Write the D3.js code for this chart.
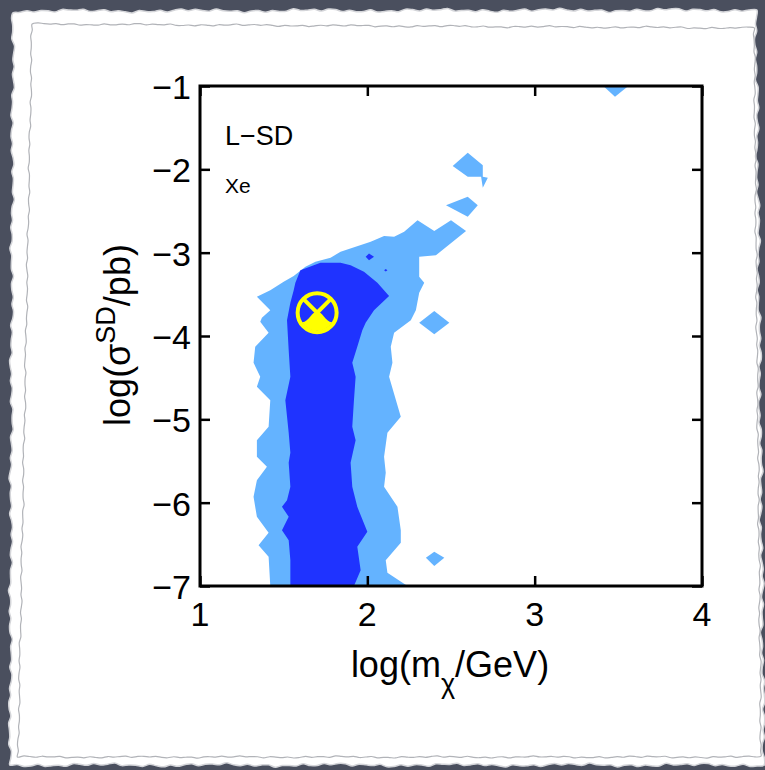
<!DOCTYPE html>
<html>
<head>
<meta charset="utf-8">
<script src="https://cdn.jsdelivr.net/npm/d3@7"></script>
<style>
  html, body { margin: 0; padding: 0; background: #4a4f5e; }
  svg { display: block; font-family: 'Liberation Sans', Arial, Helvetica, sans-serif; }
</style>
</head>
<body>
<div id="chart"></div>
<script>
// tick values
var xTicks = [1, 2, 3, 4];
var yTicks = [-1, -2, -3, -4, -5, -6, -7];

// outer (light) credible region, [log(m/GeV), log(sigma/pb)]
var lightRegion = [
  [1.42, -7], [1.41, -6.65], [1.35, -6.51], [1.41, -6.36], [1.34, -6.17], [1.32, -5.93],
  [1.34, -5.73], [1.40, -5.57], [1.34, -5.45], [1.34, -5.25], [1.41, -5.09], [1.42, -4.77],
  [1.34, -4.61], [1.36, -4.49], [1.32, -4.32], [1.33, -4.13], [1.41, -3.96], [1.36, -3.83],
  [1.37, -3.78], [1.42, -3.69], [1.34, -3.53],
  [1.42, -3.45], [1.50, -3.35], [1.56, -3.28], [1.63, -3.17], [1.69, -3.11], [1.78, -3.06],
  [1.84, -2.99], [1.93, -2.93], [2.02, -2.87], [2.10, -2.80], [2.16, -2.81], [2.22, -2.75],
  [2.30, -2.61], [2.40, -2.74], [2.50, -2.61], [2.59, -2.74], [2.41, -3.03], [2.31, -3.05],
  [2.31, -3.29], [2.34, -3.36], [2.31, -3.48], [2.29, -3.69], [2.26, -3.81],
  [2.16, -3.96], [2.14, -4.13], [2.15, -4.32], [2.13, -4.49], [2.20, -4.97], [2.12, -5.16],
  [2.10, -5.45], [2.11, -5.64], [2.10, -5.81], [2.14, -5.93], [2.18, -6.05], [2.20, -6.33],
  [2.20, -6.48], [2.11, -6.69], [2.12, -6.84], [2.24, -7]
];
var lightIslands = [
  [[2.51, -1.96], [2.60, -1.80], [2.69, -1.95], [2.69, -2.09], [2.72, -2.10], [2.69, -2.22], [2.68, -2.09], [2.60, -2.09]],
  [[2.47, -2.43], [2.60, -2.33], [2.66, -2.43], [2.60, -2.57]],
  [[2.31, -3.84], [2.40, -3.70], [2.49, -3.84], [2.40, -3.98]],
  [[3.41, -1.0], [3.56, -1.0], [3.48, -1.13]],
  [[2.35, -6.66], [2.40, -6.59], [2.46, -6.66], [2.40, -6.76]]
];

// inner (dark) credible region
var darkRegion = [
  [1.54, -7], [1.54, -6.69], [1.53, -6.45], [1.49, -6.33], [1.53, -6.17], [1.49, -6.05],
  [1.52, -5.97], [1.54, -5.81], [1.53, -5.52], [1.54, -5.40], [1.53, -5.16], [1.51, -4.77],
  [1.54, -4.49], [1.53, -4.17], [1.52, -3.81], [1.54, -3.60], [1.56, -3.45], [1.57, -3.36],
  [1.60, -3.21], [1.72, -3.12], [1.84, -3.12], [1.90, -3.15], [1.98, -3.23], [2.06, -3.36],
  [2.13, -3.52],
  [2.04, -3.69], [1.99, -3.84], [1.97, -3.93], [1.94, -4.13], [1.91, -4.32], [1.93, -4.49],
  [1.92, -4.77], [1.91, -5.09], [1.93, -5.25], [1.90, -5.52], [1.91, -5.81], [1.94, -6.05],
  [2.00, -6.35], [1.94, -6.53], [1.96, -6.81], [1.92, -7]
];
var darkIslands = [
  [[1.99, -3.05], [2.01, -3.01], [2.04, -3.05], [2.01, -3.09]],
  [[2.10, -3.21], [2.11, -3.195], [2.12, -3.21], [2.11, -3.225]]
];

// best fit point
var bestFit = [1.70, -3.72];

var width = 765, height = 770;
var margin = { left: 200, top: 86 };
var plotW = 502, plotH = 500;
var lightColor = '#64b3ff';
var darkColor = '#1f33ff';
var markColor = '#ffff00';

var svg = d3.select('#chart').append('svg')
  .attr('width', width)
  .attr('height', height);

// dark backdrop + torn paper
svg.append('rect').attr('width', width).attr('height', height).attr('fill', '#4a4f5e');

// wobbly outline along the given corners (decoration only)
function roughPoints(corners, step, amp, seed) {
  var pts = [];
  for (var c = 0; c < corners.length; c++) {
    var a = corners[c], b = corners[(c + 1) % corners.length];
    var len = Math.hypot(b[0] - a[0], b[1] - a[1]);
    var n = Math.max(2, Math.round(len / step));
    var nx = -(b[1] - a[1]) / len, ny = (b[0] - a[0]) / len;
    for (var i = 0; i < n; i++) {
      var t = i / n, k = c * 97 + i;
      var off = amp * (Math.sin(k * 2.3 + seed) * 0.45 + Math.sin(k * 0.37 + seed * 2) * 0.35 +
        Math.sin(k * 5.1 + seed * 3) * 0.2);
      pts.push([a[0] + (b[0] - a[0]) * t + nx * off, a[1] + (b[1] - a[1]) * t + ny * off]);
    }
  }
  return pts;
}
var smooth = d3.line().curve(d3.curveCatmullRomClosed);

svg.append('path')
  .attr('d', smooth(roughPoints([[13, 11], [756, 10], [764, 765], [10, 765]], 7, 2.4, 0.7)))
  .attr('fill', '#ffffff')
  .attr('stroke', '#d4d5d9')
  .attr('stroke-width', 1.5);
svg.append('path')
  .attr('d', smooth(roughPoints([[32, 24], [754, 28], [761, 757], [18, 757]], 6, 1.3, 2.1)))
  .attr('fill', 'none')
  .attr('stroke', '#b1b3b8')
  .attr('stroke-width', 1.2);

// scales
var x = d3.scaleLinear().domain([1, 4]).range([0, plotW]);
var y = d3.scaleLinear().domain([-7, -1]).range([plotH, 0]);

var g = svg.append('g')
  .attr('transform', 'translate(' + margin.left + ',' + margin.top + ')');

g.append('clipPath').attr('id', 'plotClip')
  .append('rect').attr('width', plotW).attr('height', plotH);

var line = d3.line()
  .x(function (d) { return x(d[0]); })
  .y(function (d) { return y(d[1]); });

var regions = g.append('g').attr('clip-path', 'url(#plotClip)');

regions.selectAll('path.light')
  .data([lightRegion].concat(lightIslands))
  .enter().append('path')
  .attr('class', 'light')
  .attr('d', function (d) { return line(d) + 'Z'; })
  .attr('fill', lightColor);

regions.selectAll('path.dark')
  .data([darkRegion].concat(darkIslands))
  .enter().append('path')
  .attr('class', 'dark')
  .attr('d', function (d) { return line(d) + 'Z'; })
  .attr('fill', darkColor);

// best fit marker: circled cross with filled lower part
var r = 19.5;
var mk = g.append('g')
  .attr('transform', 'translate(' + x(bestFit[0]) + ',' + y(bestFit[1]) + ')');
mk.append('path')
  .attr('d', 'M-15,9.5 C-8,9 -5,-1.5 0,-1.5 C5,-1.5 8,9 15,9.5 A17.5,17.5 0 0 1 -15,9.5 Z')
  .attr('fill', markColor);
mk.append('path')
  .attr('d', 'M' + (-r * 0.707) + ',' + (-r * 0.707) + 'L0,0L' + (r * 0.707) + ',' + (-r * 0.707))
  .attr('stroke', markColor).attr('stroke-width', 4).attr('fill', 'none');
mk.append('circle')
  .attr('r', r)
  .attr('fill', 'none')
  .attr('stroke', markColor)
  .attr('stroke-width', 4);

// axes: box with inward ticks on all sides
var tickLen = 10;
var axisStyle = function (sel) {
  sel.select('.domain').remove();
  sel.selectAll('.tick line').attr('stroke', '#000').attr('stroke-width', 2.5);
  sel.selectAll('.tick text').remove();
};
g.append('g').attr('transform', 'translate(0,' + plotH + ')')
  .call(d3.axisBottom(x).tickValues(xTicks).tickSizeInner(-tickLen).tickSizeOuter(0)).call(axisStyle);
g.append('g')
  .call(d3.axisTop(x).tickValues(xTicks).tickSizeInner(-tickLen).tickSizeOuter(0)).call(axisStyle);
g.append('g')
  .call(d3.axisLeft(y).tickValues(yTicks).tickSizeInner(-tickLen).tickSizeOuter(0)).call(axisStyle);
g.append('g').attr('transform', 'translate(' + plotW + ',0)')
  .call(d3.axisRight(y).tickValues(yTicks).tickSizeInner(-tickLen).tickSizeOuter(0)).call(axisStyle);

g.append('rect')
  .attr('width', plotW).attr('height', plotH)
  .attr('fill', 'none').attr('stroke', '#000').attr('stroke-width', 3);

// tick labels
g.selectAll('text.xt')
  .data(xTicks)
  .enter().append('text')
  .attr('class', 'xt')
  .attr('x', function (d) { return x(d); })
  .attr('y', plotH + 40)
  .attr('text-anchor', 'middle')
  .attr('font-size', 34)
  .text(function (d) { return d; });

g.selectAll('text.yt')
  .data(yTicks)
  .enter().append('text')
  .attr('class', 'yt')
  .attr('x', -9)
  .attr('y', function (d) { return y(d) + 13; })
  .attr('text-anchor', 'end')
  .attr('font-size', 34)
  .text(function (d) { return '\u2212' + Math.abs(d); });

// axis titles
var xl = svg.append('text')
  .attr('x', 450).attr('y', 677)
  .attr('text-anchor', 'middle')
  .attr('font-size', 36);
xl.append('tspan').text('log(m');
xl.append('tspan').attr('dy', 16).attr('font-size', 27).text('\u03c7');
xl.append('tspan').attr('dy', -16).text('/GeV)');

var yl = svg.append('text')
  .attr('transform', 'translate(130,335) rotate(-90)')
  .attr('text-anchor', 'middle')
  .attr('font-size', 36);
yl.append('tspan').text('log(\u03c3');
yl.append('tspan').attr('dy', -15).attr('font-size', 27).text('SD');
yl.append('tspan').attr('dy', 15).text('/pb)');

// annotations
g.append('text').attr('x', 25).attr('y', 59).attr('font-size', 27).text('L\u2212SD');
g.append('text').attr('x', 25).attr('y', 107).attr('font-size', 21).text('Xe');
</script>
</body>
</html>
